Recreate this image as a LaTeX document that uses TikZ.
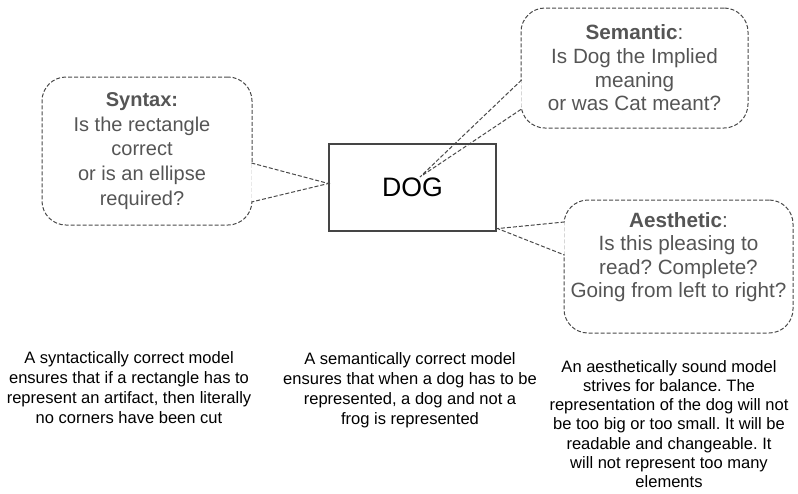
\documentclass[tikz,border=0pt]{standalone}
\usepackage{fontspec}
\setmainfont{Liberation Sans}
\usepackage{tikz}
\usetikzlibrary{positioning,backgrounds}
\definecolor{bubblegray}{HTML}{555555}
\definecolor{linegray}{HTML}{4A4A4A}
\definecolor{framegray}{HTML}{454545}
\frenchspacing
\tikzset{bubble/.style={
    % The shape:
    rectangle,
    rounded corners=18pt,
    inner sep=0pt,
    % The border:
    draw=linegray,
    line width=0.75pt,
    dash pattern=on 3pt off 1.5pt,
    },
    bubbletext/.style={
    align=center,
    text=bubblegray,
    font=\fontsize{15.5}{17.7}\selectfont,
    },
    pointer/.style={
    draw=linegray,
    line width=0.75pt,
    dash pattern=on 3pt off 1.5pt,
    fill=white,
    },
    thing/.style={
    % The shape:
    rectangle,
    minimum width=125pt,
    minimum height=65pt,
    % The border:
    draw=framegray,
    line width=1.1pt,
    % Font
    font=\fontsize{20}{24}\selectfont,
    },
    remark/.style={
    align=center,
    font=\fontsize{12.4}{15}\selectfont,
    },
}

\begin{document}
\begin{tikzpicture}[x=0.75pt,y=-0.75pt]
    \useasboundingbox (0,0) rectangle (798,493);
    \node (dog) [thing] at (412.5,187.5) {DOG};

    \begin{scope}[on background layer]
    \node (syntax)    [bubble,minimum width=157.5pt,minimum height=111pt] at (147,151) {};
    \node (semantic)  [bubble,minimum width=170.25pt,minimum height=90pt] at (634.5,68) {};
    \node (aesthetic) [bubble,minimum width=171.75pt,minimum height=99.75pt] at (678.5,266.5) {};

    \draw[pointer] ([shift={(-0.8pt,-9pt)}]syntax.east) -- ([yshift=3pt]dog.west) -- ([shift={(-0.8pt,-38.25pt)}]syntax.east);
    \draw[pointer] ([shift={(0.8pt,-9pt)}]semantic.west) -- ([shift={(5.6pt,7.9pt)}]dog.center) -- ([shift={(0.8pt,-30.75pt)}]semantic.west);
    \draw[pointer] ([shift={(0.8pt,33.4pt)}]aesthetic.west) -- ([shift={(0.75pt,2.25pt)}]dog.south east) -- ([shift={(0.8pt,8.6pt)}]aesthetic.west);
    \end{scope}

    \node (syntaxtext)    [bubbletext,font=\fontsize{15}{18.5}\selectfont] at ([xshift=-3.75pt]syntax.center) {\textbf{Syntax:}\\Is the rectangle\\correct\\or is an ellipse\\required?};
    \node (semantictext)  [bubbletext] at (semantic.center) {\textbf{Semantic}:\\Is Dog the Implied\\meaning\\or was Cat meant?};
    \node (aesthetictext) [bubbletext] at ([yshift=7pt]aesthetic.center) {\textbf{Aesthetic}:\\Is this pleasing to\\read? Complete?\\Going from left to right?};

    \node (syntaxnote)    [remark] at (129,388) {A syntactically correct model\\ensures that if a rectangle has to\\represent an artifact, then literally\\no corners have been cut};
    \node (semanticnote)  [remark] at (410,390) {A semantically correct model\\ensures that when a dog has to be\\represented, a dog and not a\\frog is represented};
    \node (aestheticnote) [remark,font=\fontsize{12.4}{14.4}\selectfont] at (669,424) {An aesthetically sound model\\strives for balance. The\\representation of the dog will not\\be too big or too small. It will be\\readable and changeable. It\\will not represent too many\\elements};
\end{tikzpicture}
\end{document}
